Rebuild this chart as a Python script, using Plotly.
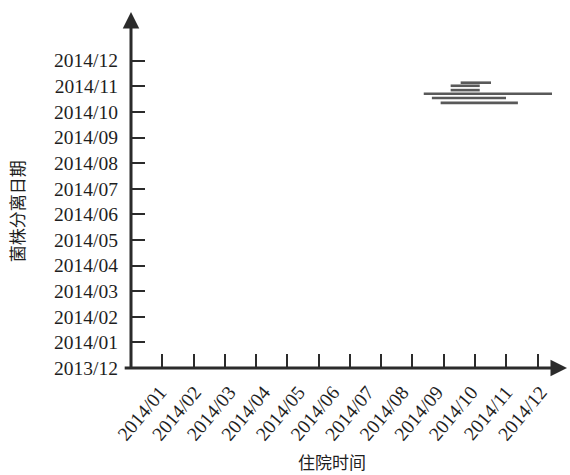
import plotly.graph_objects as go

# Y axis: isolation date (months since 2013/12)
y_labels = ["2013/12", "2014/01", "2014/02", "2014/03", "2014/04", "2014/05", "2014/06",
            "2014/07", "2014/08", "2014/09", "2014/10", "2014/11", "2014/12"]
# X axis: hospitalization month labels
x_labels = ["2014/01", "2014/02", "2014/03", "2014/04", "2014/05", "2014/06",
            "2014/07", "2014/08", "2014/09", "2014/10", "2014/11", "2014/12"]

# hospital stay segments (months since 2013/12) and isolation date
seg_start = [10.54, 10.22, 10.22, 9.36, 9.62, 9.90]
seg_end = [11.51, 11.15, 11.15, 13.46, 11.99, 12.37]
seg_y = [11.14, 11.02, 10.85, 10.71, 10.54, 10.35]

X_MAX = 13.94
Y_MAX = 13.9
LABEL_START = 0.93
LABEL_STEP = 1.106  # tick labels are spread a bit wider than the tick marks

fig = go.Figure()
xs, ys = [], []
for s, e, y in zip(seg_start, seg_end, seg_y):
    xs += [s, e, None]
    ys += [y, y, None]
fig.add_trace(go.Scatter(x=xs, y=ys, mode="lines",
                         line=dict(color="#595959", width=2.6),
                         hoverinfo="skip", showlegend=False))

axis_color = "#2b2b2b"
label_font = dict(family="Liberation Serif, Times New Roman, serif", size=19.5, color="#1e1e1e")

fig.update_layout(
    width=570, height=475,
    margin=dict(l=131, r=3, t=12, b=107),
    plot_bgcolor="white", paper_bgcolor="white",
    showlegend=False,
    xaxis=dict(
        range=[0, X_MAX], showgrid=False, zeroline=False, showline=False,
        tickmode="array",
        tickvals=[LABEL_START + LABEL_STEP * i for i in range(len(x_labels))],
        ticktext=x_labels, tickangle=-50, ticks="",
        tickfont=label_font, ticklabelstandoff=8,
        minor=dict(tickmode="array", tickvals=list(range(1, 14)), ticks="inside",
                   ticklen=14, tickwidth=2, tickcolor=axis_color),
    ),
    yaxis=dict(
        range=[0, Y_MAX], showgrid=False, zeroline=False, showline=False,
        tickmode="array", tickvals=list(range(len(y_labels))), ticktext=y_labels,
        ticks="inside", ticklen=14, tickwidth=2, tickcolor=axis_color,
        tickfont=label_font, ticklabelstandoff=12,
    ),
)

# axis lines with arrowheads
fig.add_annotation(x=X_MAX, y=0, ax=-0.25, ay=0, xref="x", yref="y", axref="x", ayref="y",
                   text="", showarrow=True, arrowhead=2, arrowsize=1.1, arrowwidth=3,
                   arrowcolor=axis_color, standoff=0, startstandoff=0)
fig.add_annotation(x=0, y=Y_MAX, ax=0, ay=-0.08, xref="x", yref="y", axref="x", ayref="y",
                   text="", showarrow=True, arrowhead=2, arrowsize=1.1, arrowwidth=3,
                   arrowcolor=axis_color, standoff=0, startstandoff=0)

title_font = dict(family="Noto Sans CJK SC, sans-serif", size=17, color="#1e1e1e")
fig.add_annotation(text="住院时间", xref="paper", yref="paper", x=0.46, y=-0.264,
                   showarrow=False, font=title_font, xanchor="center", yanchor="middle")
fig.add_annotation(text="菌株分离日期", xref="paper", yref="paper", x=-0.262, y=0.44,
                   showarrow=False, font=title_font, textangle=-90,
                   xanchor="center", yanchor="middle")

fig.write_html("out.html")
